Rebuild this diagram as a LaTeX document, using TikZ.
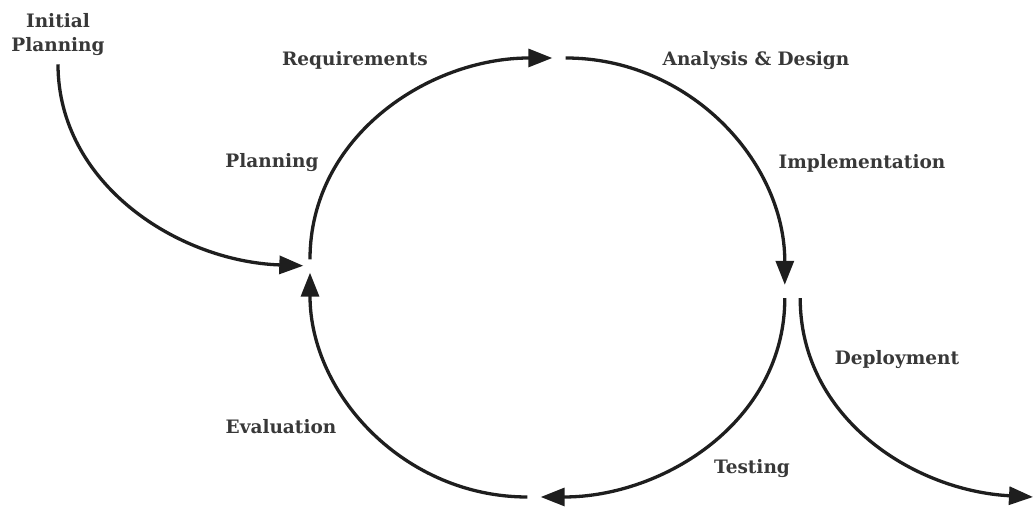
\documentclass[tikz,border=0pt]{standalone}
\usepackage{fontspec}
\setmainfont{DejaVu Serif}
\usepackage{tikz}
\usetikzlibrary{arrows.meta}
\definecolor{cycleink}{HTML}{1E1E1E}
\definecolor{cycletext}{HTML}{383838}

\begin{document}
\begin{tikzpicture}[x=1pt, y=1pt,
  phase/.style={text=cycletext, font=\bfseries\fontsize{18.5}{24}\selectfont, inner sep=2pt},
  gap/.style={circle, inner sep=0pt, minimum size=13pt},
  flow/.style={draw=cycleink, line width=3.3pt, -{Triangle[length=24pt, width=18pt]}}]
\path[use as bounding box] (0,0) rectangle (1033,510);

% gaps between the phases
\node[gap] (left) at (310,244) {};
\node[gap] (top) at (559,452) {};
\node[rectangle, inner sep=0pt, minimum width=15pt, minimum height=13pt] (right) at (792.5,218.5) {};
\node[gap] (bottom) at (534,13) {};
\coordinate (release) at (1033,13);

% labels
\node[phase, align=center] (initial) at (58,475) {Initial\\Planning};
\node[phase] (requirements) at (355,450) {Requirements};
\node[phase] (analysis) at (756,449) {Analysis \& Design};
\node[phase] (planning) at (272,347) {Planning};
\node[phase] (implementation) at (862,347) {Implementation};
\node[phase] (deployment) at (897,150) {Deployment};
\node[phase] (evaluation) at (281,83) {Evaluation};
\node[phase] (testing) at (752,41) {Testing};

% the cycle
\draw[flow] (left) to[out=90, in=180] (top);
\draw[flow] (top) to[out=0, in=90] (right.north west);
\draw[flow] (right.south west) to[out=-90, in=0] (bottom);
\draw[flow] (bottom) to[out=180, in=-90] (left);

% entry and exit
\draw[flow, shorten <=6pt] (initial.south) to[out=-90, in=178] (left);
\draw[flow] (right.south east) to[out=-90, in=177] (release);
\end{tikzpicture}
\end{document}
